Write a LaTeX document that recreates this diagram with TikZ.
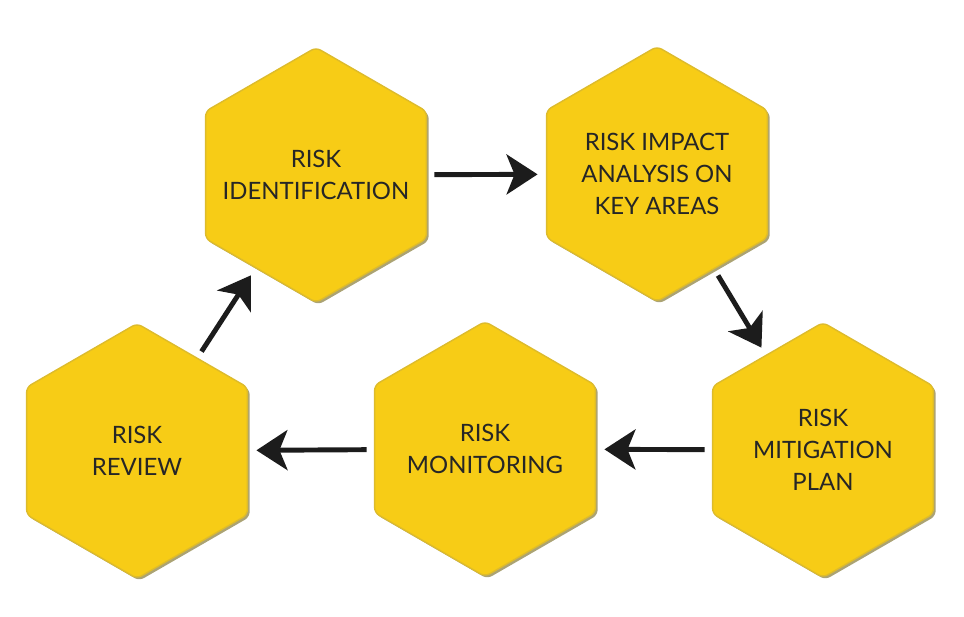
\documentclass[tikz,border=0pt]{standalone}
\usepackage{fontspec}
\setmainfont{Lato}
\usetikzlibrary{shapes.geometric, arrows.meta, shadows}

\definecolor{hexyellow}{HTML}{F7CC16}
\definecolor{hexrim}{HTML}{DDBB2C}
\definecolor{hexshade}{HTML}{8F8445}
\definecolor{arrowink}{HTML}{1C1C1C}
\definecolor{labelink}{HTML}{262626}

\tikzset{
    riskhex/.style={regular polygon, regular polygon sides=6, shape border rotate=30,
        minimum size=5.1cm, inner sep=0pt, outer sep=0pt, rounded corners=3pt,
        fill=hexyellow, draw=hexrim, line width=0.8pt,
        drop shadow={shadow xshift=0.045cm, shadow yshift=-0.045cm, fill=hexshade, opacity=0.75}},
    hexlabel/.style={align=center, text=labelink, font=\fontsize{13.6}{18.2}\selectfont},
    flow/.style={-{Stealth[length=0.62cm, width=0.8cm, inset=0.16cm]}, line width=2.8pt,
        draw=arrowink, shorten <=0.16cm, shorten >=0.18cm}
}

\begin{document}
\begin{tikzpicture}
    \useasboundingbox (0,0) rectangle (19.28,12.32);

    % hexagons:
    \node[riskhex, label={[hexlabel]center:RISK\\IDENTIFICATION}] (ident) at (6.32,8.82) {};
    \node[riskhex, label={[hexlabel]center:RISK IMPACT\\ANALYSIS ON\\KEY AREAS}] (impact) at (13.14,8.84) {};
    \node[riskhex, label={[hexlabel]center:RISK\\MITIGATION\\PLAN}] (mitig) at (16.46,3.32) {};
    \node[riskhex, label={[hexlabel]center:RISK\\MONITORING}] (monitor) at (9.70,3.34) {};
    \node[riskhex, label={[hexlabel]center:RISK\\REVIEW}] (review) at (2.74,3.30) {};

    % arrows:
    \draw[flow] (ident) -- (impact);
    \draw[flow] (impact) -- (mitig);
    \draw[flow] (mitig) -- (monitor);
    \draw[flow] (monitor) -- (review);
    \draw[flow] (review) -- (ident);
\end{tikzpicture}
\end{document}
